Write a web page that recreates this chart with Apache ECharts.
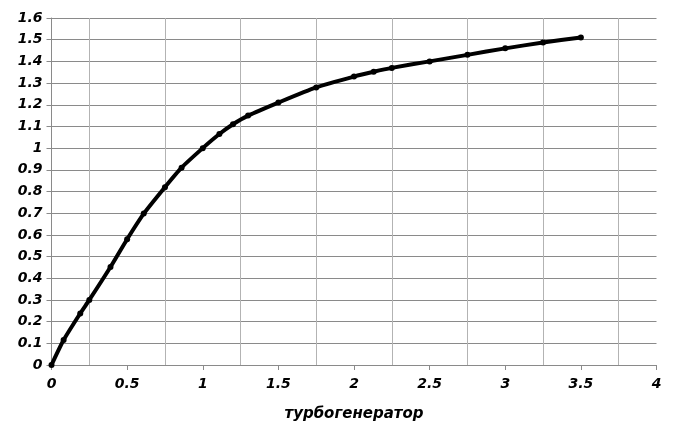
<!DOCTYPE html>
<html>
<head>
<meta charset="utf-8">
<script src="https://cdn.jsdelivr.net/npm/echarts@6/dist/echarts.min.js"></script>
<style>html,body{margin:0;padding:0;background:#fff;}#c{width:675px;height:445px;}</style>
</head>
<body>
<div id="c"></div>
<script>
var xValues = [0, 0.08, 0.19, 0.25, 0.39, 0.5, 0.61, 0.75, 0.86, 1, 1.11, 1.2, 1.3, 1.5, 1.75, 2, 2.13, 2.25, 2.5, 2.75, 3, 3.25, 3.5];
var yValues = [0, 0.115, 0.238, 0.30, 0.452, 0.58, 0.698, 0.82, 0.91, 1.0, 1.065, 1.11, 1.15, 1.21, 1.28, 1.33, 1.352, 1.37, 1.40, 1.43, 1.46, 1.487, 1.51];
var xAxisName = 'турбогенератор';

var seriesData = xValues.map(function (x, i) { return [x, yValues[i]]; });

var chart = echarts.init(document.getElementById('c'), null, {renderer: 'canvas'});
var labelFont = {color: '#000', fontFamily: 'DejaVu Sans', fontStyle: 'italic', fontWeight: 'bold', fontSize: 14};
chart.setOption({
  animation: false,
  backgroundColor: '#fff',
  grid: {left: 51.5, right: 18.5, top: 18, bottom: 80},
  xAxis: {
    type: 'value', min: 0, max: 4, interval: 0.5,
    name: xAxisName, nameLocation: 'middle', nameGap: 42,
    nameTextStyle: {color: '#000', fontFamily: 'DejaVu Sans', fontStyle: 'italic', fontWeight: 'bold', fontSize: 15},
    axisLine: {show: true, lineStyle: {color: '#8a8a8a', width: 1}},
    axisTick: {show: true, inside: false, length: 5, lineStyle: {color: '#8a8a8a'}},
    axisLabel: Object.assign({margin: 12}, labelFont),
    splitLine: {show: false},
    minorTick: {show: false, splitNumber: 2},
    minorSplitLine: {show: true, lineStyle: {color: '#b3b3b3', width: 1}}
  },
  yAxis: {
    type: 'value', min: 0, max: 1.6, interval: 0.1,
    axisLine: {show: true, lineStyle: {color: '#8a8a8a', width: 1}},
    axisTick: {show: true, inside: false, length: 5, lineStyle: {color: '#8a8a8a'}},
    axisLabel: Object.assign({margin: 9}, labelFont),
    splitLine: {show: true, lineStyle: {color: '#8a8a8a', width: 1}}
  },
  series: [{
    type: 'line',
    data: seriesData,
    smooth: 0.2,
    symbol: 'circle',
    symbolSize: 6,
    showAllSymbol: true,
    lineStyle: {color: '#000', width: 4},
    itemStyle: {color: '#000'}
  }]
});
</script>
</body>
</html>
